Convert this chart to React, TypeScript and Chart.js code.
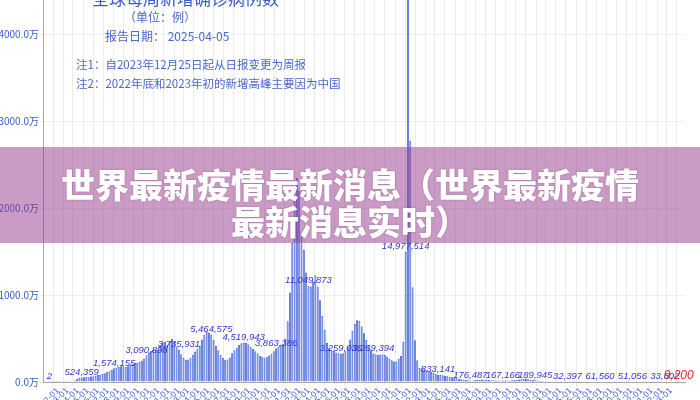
import React, { useEffect, useRef } from 'react';
import { Chart, registerables } from 'chart.js';

Chart.register(...registerables);

// ---- data (weekly new confirmed cases, worldwide) ----
const FIRST_WEEK = '2020-01-05';

const CASES_2020 = [
  2, 40, 250, 2000, 12000, 19000, 28000, 9000, 14000, 26000, 62000, 180000, 380000,
  520000, 524359, 560000, 570000, 560000, 620000, 660000, 730000, 800000, 860000, 920000,
  1020000, 1150000, 1250000, 1420000, 1574155, 1660000, 1760000, 1800000, 1810000, 1760000,
  1820000, 2000000, 2100000, 2200000, 2200000, 2300000, 2450000, 2700000, 3090898, 3400000,
  3600000, 3700000, 3750000, 3700000, 4300000, 4500000, 4600000, 4250000,
];
const CASES_2021 = [
  4650000, 4950000, 4600000, 4100000, 3735931, 3200000, 2750000, 2550000, 2600000, 2800000,
  3100000, 3500000, 3850000, 4200000, 4900000, 5450000, 5750000, 5700000, 5464575, 4850000,
  4150000, 3650000, 3150000, 2750000, 2550000, 2600000, 2800000, 3300000, 3650000, 3950000,
  4250000, 4450000, 4519943, 4500000, 4350000, 4100000, 3800000, 3550000, 3300000, 3000000,
  2900000, 2800000, 2900000, 3050000, 3250000, 3550000, 3863386, 4050000, 4250000, 4350000,
  5000000, 7000000,
];
const CASES_2022 = [
  10300000, 16000000, 21500000, 23500000, 22000000, 17000000, 15200000, 12600000, 11049873,
  11000000, 11600000, 12300000, 11000000, 9400000, 7600000, 6000000, 4500000, 3900000,
  3600000, 3600000, 3400000, 3300000, 3259036, 3300000, 3550000, 4100000, 4900000, 5900000,
  6700000, 7100000, 7050000, 6400000, 5600000, 4850000, 4250000, 3700000, 3269394, 3200000,
  3100000, 3150000, 3200000, 3100000, 2900000, 2700000, 2500000, 2350000, 2400000, 2700000,
  3000000, 4600000, 14977514, 45500000,
];
const CASES_2023 = [
  27800000, 10900000, 4800000, 2500000, 1600000, 1550000, 1450000, 1350000, 1250000, 1150000,
  1050000, 950000, 833141, 800000, 780000, 720000, 650000, 600000, 560000, 500000, 430000,
  380000, 320000, 270000, 230000, 200000, 176487, 185000, 200000, 230000, 260000, 280000,
  270000, 250000, 230000, 210000, 195000, 185000, 175000, 170000, 167166, 165000, 160000,
  170000, 190000, 220000, 260000, 290000, 320000, 350000, 380000, 330000,
];
const CASES_2024_2025 = [
  260000, 220000, 189945, 160000, 130000, 110000, 90000, 80000, 70000, 60000, 55000, 50000,
  45000, 40000, 37000, 35000, 32397, 30000, 31000, 33000, 36000, 40000, 45000, 50000, 55000,
  60000, 65000, 70000, 68000, 64000, 61560, 60000, 62000, 63000, 60000, 58000, 55000, 53000,
  52000, 50000, 49000, 50000, 52000, 51000, 51056, 50000, 48000, 46000, 44000, 42000, 40000,
  42000, 45000, 43000, 40000, 38000, 36000, 35000, 33602, 32000, 30000, 28000, 25000, 20000,
  9200,
];
const WEEKLY_CASES = [...CASES_2020, ...CASES_2021, ...CASES_2022, ...CASES_2023, ...CASES_2024_2025];

const LABEL_EVERY = 14;

const Y_TICKS = [0, 10000000, 20000000, 30000000, 40000000];
const Y_MAX = 45000000;

const TITLE = '全球每周新增确诊病例数';
const UNIT = '（单位：例）';
const REPORT_DATE = '报告日期： 2025-04-05';
const NOTE_1 = '注1：自2023年12月25日起从日报变更为周报';
const NOTE_2 = '注2：2022年底和2023年初的新增高峰主要因为中国';
const BANNER_LINE_1 = '世界最新疫情最新消息（世界最新疫情';
const BANNER_LINE_2 = '最新消息实时）';

// month tick labels from 2020-02 to 2025-03
const MONTH_LABELS: string[] = [];
for (let y = 2020; y <= 2025; y++) {
  for (let m = 1; m <= 12; m++) {
    if (y === 2020 && m < 2) continue;
    if (y === 2025 && m > 3) continue;
    MONTH_LABELS.push(`${y}-${String(m).padStart(2, '0')}-01`);
  }
}

const DAY = 86400000;
const startMs = Date.parse(FIRST_WEEK + 'T00:00:00Z');
const weekPos = (iso: string) => (Date.parse(iso + 'T00:00:00Z') - startMs) / (7 * DAY);
const MONTH_TICKS = MONTH_LABELS.map(weekPos);

const fmt = (v: number) => v.toLocaleString('en-US');

const labelPlugin = {
  id: 'barLabels',
  afterDatasetsDraw(chart: any) {
    const meta = chart.getDatasetMeta(0);
    const ctx = chart.ctx;
    ctx.save();
    ctx.textAlign = 'center';
    ctx.textBaseline = 'bottom';
    const last = WEEKLY_CASES.length - 1;
    meta.data.forEach((bar: any, i: number) => {
      if (i % LABEL_EVERY !== 0 || i === last) return;
      ctx.font = 'italic 9.5px "Liberation Sans", Arial, sans-serif';
      ctx.fillStyle = '#3535d2';
      ctx.fillText(fmt(WEEKLY_CASES[i]), bar.x, bar.y - 0.5);
    });
    const lb = meta.data[last];
    ctx.font = 'italic 12px "Liberation Sans", Arial, sans-serif';
    ctx.fillStyle = '#e02525';
    ctx.fillText(fmt(WEEKLY_CASES[last]), lb.x, lb.y - 0.5);
    ctx.restore();
  },
};

const noteStyle = (top: number, left: number, size: number, lh: number, color = '#4a68cc'): React.CSSProperties => ({
  position: 'absolute',
  top,
  left,
  fontSize: size,
  lineHeight: `${lh}px`,
  color,
  whiteSpace: 'nowrap',
  fontFamily: '"Noto Sans CJK SC", "Noto Sans", sans-serif',
});

export default function App() {
  const ref = useRef<HTMLCanvasElement>(null);

  useEffect(() => {
    const canvas = ref.current;
    if (!canvas) return;
    const chart = new Chart(canvas, {
      type: 'bar',
      data: {
        datasets: [
          {
            data: WEEKLY_CASES.map((y, i) => ({ x: i, y })),
            backgroundColor: 'rgba(108,138,232,0.68)',
            borderColor: '#3a5bd4',
            borderWidth: 0.8,
            barPercentage: 0.85,
            categoryPercentage: 1,
          },
        ],
      },
      options: {
        responsive: false,
        animation: false,
        layout: { padding: { top: 21, right: 15, left: 0, bottom: 0 } },
        plugins: { legend: { display: false }, tooltip: { enabled: false }, title: { display: false } },
        scales: {
          x: {
            type: 'linear',
            min: -0.5,
            max: WEEKLY_CASES.length - 0.5,
            afterBuildTicks: (s: any) => {
              s.ticks = MONTH_TICKS.map((v) => ({ value: v }));
            },
            afterFit: (s: any) => {
              s.height = 68;
            },
            ticks: {
              autoSkip: false,
              minRotation: 45,
              maxRotation: 45,
              padding: 1,
              color: '#4262d2',
              font: { size: 8, family: '"DejaVu Sans", sans-serif' },
              callback: (_v: any, i: number) => MONTH_LABELS[i],
            },
            grid: { color: '#ececec', tickLength: 3 },
            border: { color: '#a8a8a8' },
          },
          y: {
            min: 0,
            max: Y_MAX,
            afterBuildTicks: (s: any) => {
              s.ticks = Y_TICKS.map((v) => ({ value: v }));
            },
            afterFit: (s: any) => {
              s.width = 43;
            },
            ticks: {
              padding: 1,
              color: '#3a5ccc',
              font: { size: 10, family: '"Noto Sans CJK SC", "Noto Sans", sans-serif' },
              callback: (v: any) => (Number(v) / 10000).toFixed(1) + '万',
            },
            grid: { color: '#efefef', tickLength: 3 },
            border: { color: '#a8a8a8' },
          },
        },
      },
      plugins: [labelPlugin],
    } as any);
    return () => chart.destroy();
  }, []);

  return (
    <div
      style={{
        position: 'fixed',
        left: 0,
        top: 0,
        width: 700,
        height: 400,
        overflow: 'hidden',
        background: '#ffffff',
      }}
    >
      <canvas ref={ref} width={700} height={480} style={{ position: 'absolute', left: 0, top: -30, width: 700, height: 480 }} />
      <div style={noteStyle(-12.4, 92, 17, 20, '#3c5cc6')}>{TITLE}</div>
      <div style={noteStyle(9.4, 124, 12, 16)}>{UNIT}</div>
      <div style={noteStyle(28.4, 105, 12, 16)}>{REPORT_DATE}</div>
      <div style={noteStyle(56.4, 76, 11.5, 16)}>{NOTE_1}</div>
      <div style={noteStyle(75.4, 76, 11.5, 16)}>{NOTE_2}</div>
      <div
        style={{
          position: 'absolute',
          left: 0,
          top: 147,
          width: 700,
          height: 96,
          background: 'rgba(150,55,140,0.5)',
        }}
      />
      <div
        style={{
          position: 'absolute',
          left: 0,
          top: 164.5,
          width: 700,
          textAlign: 'center',
          fontSize: 34,
          lineHeight: '37px',
          fontWeight: 900,
          color: '#ffffff',
          whiteSpace: 'nowrap',
          fontFamily: '"Noto Sans CJK SC", sans-serif',
          textShadow: '0 0 2px rgba(90,20,90,0.35)',
        }}
      >
        {BANNER_LINE_1}
        <br />
        {BANNER_LINE_2}
      </div>
    </div>
  );
}
